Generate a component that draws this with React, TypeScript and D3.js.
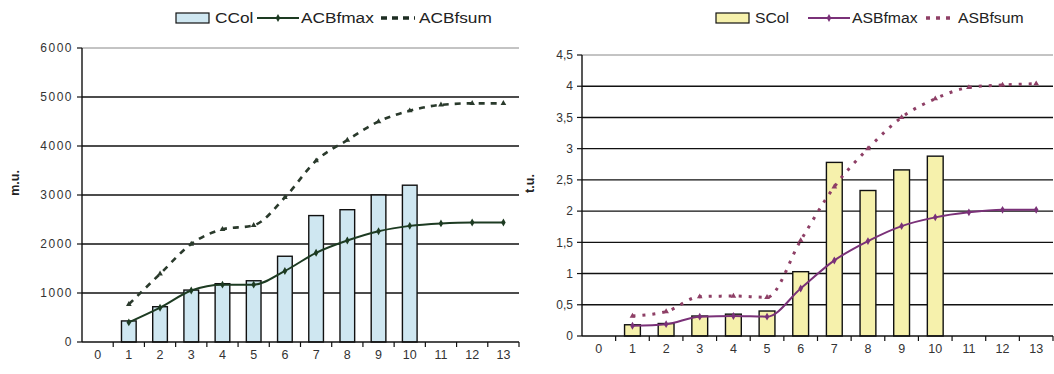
import React from 'react';
import * as d3 from 'd3';

// category labels on the x axis (same for both panels)
const xLabels = ["0", "1", "2", "3", "4", "5", "6", "7", "8", "9", "10", "11", "12", "13"];
const barCats = ["1", "2", "3", "4", "5", "6", "7", "8", "9", "10"];
const lineCats = ["1", "2", "3", "4", "5", "6", "7", "8", "9", "10", "11", "12", "13"];

// left panel (m.u.)
const cCol = [430, 720, 1060, 1190, 1250, 1750, 2580, 2700, 3000, 3200];
const acbFmax = [400, 700, 1050, 1170, 1170, 1450, 1820, 2070, 2260, 2370, 2420, 2440, 2440];
const acbFsum = [770, 1390, 2000, 2300, 2380, 2950, 3700, 4120, 4500, 4720, 4840, 4870, 4870];
const leftTicks = [0, 1000, 2000, 3000, 4000, 5000, 6000];

// right panel (t.u.)
const sCol = [0.18, 0.2, 0.32, 0.35, 0.4, 1.03, 2.78, 2.33, 2.66, 2.88];
const asbFmax = [0.165, 0.19, 0.31, 0.32, 0.31, 0.76, 1.21, 1.52, 1.76, 1.9, 1.98, 2.02, 2.02];
const asbFsum = [0.32, 0.39, 0.63, 0.64, 0.62, 1.53, 2.39, 3.0, 3.5, 3.8, 3.98, 4.02, 4.04];
const rightTicks = [0, 0.5, 1, 1.5, 2, 2.5, 3, 3.5, 4, 4.5];

const FONT = "'Liberation Sans', Arial, sans-serif";

type PanelProps = {
    x0: number; x1: number; yTop: number; yBottom: number;
    ticks: number[]; fmt: (v: number) => string;
    bars: number[]; fmax: number[]; fsum: number[];
    barFill: string; maxColor: string; sumColor: string;
    sumDash: string; sumWidth: number;
    title: string; titleX: number;
    labelSpacing: number;
};

const Panel = (p: PanelProps) => {
    const x = d3.scaleBand().domain(xLabels).range([p.x0, p.x1]);
    const y = d3.scaleLinear()
        .domain([0, p.ticks[p.ticks.length - 1]])
        .range([p.yBottom, p.yTop]);
    const bw = x.bandwidth() * 0.47;
    const cx = (c: string) => (x(c) as number) + x.bandwidth() / 2;

    const line = d3.line<number>()
        .x((_, i) => cx(lineCats[i]))
        .y(d => y(d))
        .curve(d3.curveMonotoneX);

    return (
        <g>
            {/* gridlines */}
            {p.ticks.filter(t => t > 0).map((t, i, arr) => (
                <line key={"g" + t} x1={p.x0} x2={p.x1} y1={y(t)} y2={y(t)}
                    stroke={i === arr.length - 1 ? "#888" : "#111"}
                    strokeWidth={i === arr.length - 1 ? 1 : 1.4} />
            ))}
            {/* bars */}
            {p.bars.map((v, i) => (
                <rect key={"b" + i} x={cx(barCats[i]) - bw / 2} y={y(v)}
                    width={bw} height={y(0) - y(v)}
                    fill={p.barFill} stroke="#111" strokeWidth={1.4} />
            ))}
            {/* axes */}
            <line x1={p.x0} x2={p.x0} y1={p.yTop} y2={p.yBottom} stroke="#111" strokeWidth={1.4} />
            <line x1={p.x0} x2={p.x1} y1={p.yBottom} y2={p.yBottom} stroke="#111" strokeWidth={1.4} />
            {p.ticks.map(t => (
                <g key={"yt" + t}>
                    <line x1={p.x0 - 5} x2={p.x0} y1={y(t)} y2={y(t)} stroke="#111" strokeWidth={1.2} />
                    <text x={p.x0 - 9} y={y(t)} dy="0.35em" textAnchor="end"
                        fontSize={12} fill="#333" letterSpacing={p.labelSpacing}
                        fontFamily={FONT}>{p.fmt(t)}</text>
                </g>
            ))}
            {xLabels.map((c, i) => (
                <g key={"xt" + c}>
                    <line x1={(x(c) as number) + x.bandwidth()} x2={(x(c) as number) + x.bandwidth()}
                        y1={p.yBottom} y2={p.yBottom + 5} stroke="#111" strokeWidth={1.2} />
                    <text x={cx(c)} y={p.yBottom + 17} textAnchor="middle" fontSize={12.5}
                        fill="#333" fontFamily={FONT}>{c}</text>
                </g>
            ))}
            {/* lines */}
            <path d={line(p.fsum) || ""} fill="none" stroke={p.sumColor}
                strokeWidth={p.sumWidth} strokeDasharray={p.sumDash} />
            <path d={line(p.fmax) || ""} fill="none" stroke={p.maxColor} strokeWidth={2} />
            {p.fmax.map((v, i) => (
                <path key={"m" + i} d={d3.symbol(d3.symbolDiamond, 18)() || ""}
                    transform={`translate(${cx(lineCats[i])},${y(v)})`} fill={p.maxColor} />
            ))}
            {p.fsum.map((v, i) => (
                <path key={"s" + i} d={d3.symbol(d3.symbolTriangle, 14)() || ""}
                    transform={`translate(${cx(lineCats[i])},${y(v)})`} fill={p.sumColor} />
            ))}
            <text transform={`translate(${p.titleX},${(p.yTop + p.yBottom) / 2 - 12}) rotate(-90)`}
                textAnchor="middle" dy="0.35em" fontSize={12.5} fontWeight="bold"
                fill="#222" fontFamily={FONT}>{p.title}</text>
        </g>
    );
};

type LegendProps = {
    box: number; boxFill: string; colName: string;
    lineX: number; maxColor: string; maxName: string;
    dashX: number; dashW: number; sumColor: string; sumDash: string; sumWidth: number; sumName: string;
    stretch: number;
};

// legend text in the reference is a little wide, so it gets stretched a bit
const LegText = ({ x, y, k, children }: { x: number; y: number; k: number; children: string }) => (
    <text transform={`translate(${x},${y}) scale(${k},1)`} dy="0.36em">{children}</text>
);

const Legend = (l: LegendProps) => {
    const cy = 18;
    return (
        <g fontFamily={FONT} fontSize={15} fill="#222">
            <rect x={l.box} y={cy - 5} width={33} height={10} fill={l.boxFill} stroke="#111" strokeWidth={1.2} />
            <LegText x={l.box + 39} y={cy} k={l.stretch}>{l.colName}</LegText>
            <line x1={l.lineX} x2={l.lineX + 42} y1={cy} y2={cy} stroke={l.maxColor} strokeWidth={2} />
            <path d={d3.symbol(d3.symbolDiamond, 18)() || ""} transform={`translate(${l.lineX + 21},${cy})`} fill={l.maxColor} />
            <LegText x={l.lineX + 44} y={cy} k={l.stretch}>{l.maxName}</LegText>
            <line x1={l.dashX} x2={l.dashX + l.dashW} y1={cy} y2={cy} stroke={l.sumColor}
                strokeWidth={l.sumWidth} strokeDasharray={l.sumDash} />
            <LegText x={l.dashX + l.dashW + 4} y={cy} k={l.stretch}>{l.sumName}</LegText>
        </g>
    );
};

const App = () => {
    return (
        <div style={{ position: "fixed", left: 0, top: 0, background: "#fff" }}>
            <svg width={1054} height={374} style={{ display: "block" }}>
                <rect width={1054} height={374} fill="#fff" />
                <Legend box={176} boxFill="#cfe7f1" colName="CCol"
                    lineX={257} maxColor="#1d3b22" maxName="ACBfmax"
                    dashX={381} dashW={34} sumColor="#1d2d22" sumDash="6,5" sumWidth={3.5} sumName="ACBfsum"
                    stretch={1.15} />
                <Panel x0={82} x1={519} yTop={48} yBottom={342}
                    ticks={leftTicks} fmt={d3.format("d")}
                    bars={cCol} fmax={acbFmax} fsum={acbFsum}
                    barFill="#cfe7f1" maxColor="#1d3b22" sumColor="#2a3a2c"
                    sumDash="6,6" sumWidth={2.6} title="m.u." titleX={15} labelSpacing={1.5} />
                <Legend box={716} boxFill="#f6f1ac" colName="SCol"
                    lineX={808} maxColor="#7a3178" maxName="ASBfmax"
                    dashX={926} dashW={28} sumColor="#8e3f66" sumDash="4,6" sumWidth={3.5} sumName="ASBfsum"
                    stretch={1.05} />
                <Panel x0={582} x1={1053} yTop={55} yBottom={336}
                    ticks={rightTicks} fmt={(v: number) => String(v).replace(".", ",")}
                    bars={sCol} fmax={asbFmax} fsum={asbFsum}
                    barFill="#f6f1ac" maxColor="#7a3178" sumColor="#8e3f66"
                    sumDash="3,7" sumWidth={3} title="t.u." titleX={530} labelSpacing={0} />
            </svg>
        </div>
    );
};

export default App;
